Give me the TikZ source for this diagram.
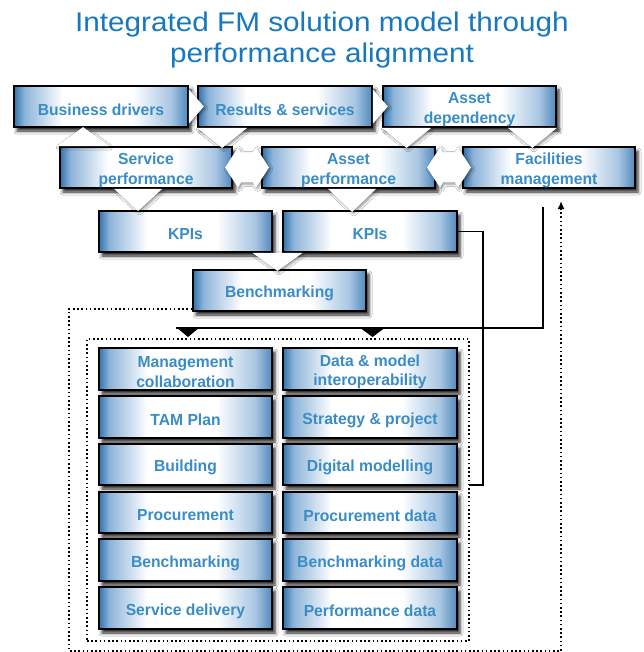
\documentclass[tikz,border=0pt]{standalone}
\usepackage{fontspec}
\setmainfont{Liberation Sans}
\newfontfamily\titlefont[FakeStretch=1.1]{Liberation Sans}
\newfontfamily\boxfont[FakeStretch=0.98]{Liberation Sans}
\usetikzlibrary{calc,shadows.blur,arrows.meta}

\definecolor{titleblue}{HTML}{1878BE}
\definecolor{boxtext}{HTML}{3A8CC6}
\definecolor{edgeL}{HTML}{3273AC}
\definecolor{edgeR}{HTML}{5089BE}
\definecolor{paleL}{HTML}{8DB4D9}
\definecolor{paleR}{HTML}{A9C6E2}

% blue at both sides, white in the middle
\pgfdeclarehorizontalshading{fmshade}{100bp}{color(0bp)=(edgeL); color(25bp)=(edgeL); color(28bp)=(paleL); color(39bp)=(white); color(59bp)=(white); color(70bp)=(paleR); color(75bp)=(edgeR); color(100bp)=(edgeR)}

\tikzset{
  fmbox/.style={draw=black, line width=1.8pt, shade, shading=fmshade,
    blur shadow={shadow xshift=3pt, shadow yshift=-4pt, shadow blur radius=3pt, shadow opacity=85},
    inner sep=0pt},
  fmtext/.style={font=\boxfont\bfseries\fontsize{16}{19.5}\selectfont, text=boxtext, align=center, inner sep=0pt},
  flow/.style={fill=white, draw=none,
    blur shadow={shadow xshift=1.5pt, shadow yshift=-1.5pt, shadow blur radius=2.5pt, shadow opacity=45}},
  titletext/.style={font=\titlefont\fontsize{27}{31}\selectfont, text=titleblue, anchor=base, inner sep=0pt},
  link/.style={line width=1.6pt, draw=black},
  dots/.style={line width=1.6pt, dash pattern=on 1.6pt off 2.6pt},
  head/.style={fill=black}
}

% box from (x1,y1) to (x2,y2), y growing downwards; its text sits a little below the middle
\newcommand{\fmnode}[6]{%
  \node[fmbox, minimum width={#4-#2}, minimum height={#5-#3}] (#1) at ({(#2+#4)/2},{(#3+#5)/2}) {};
  \node[fmtext] (#1-text) at ($(#1.center)+(0,3)$) {#6};}
% white double arrow centred on a point
\newcommand{\fmdouble}[1]{\path[flow] ($(#1)+(-22,0)$) -- ++(13,-20) -- ++(3,5) -- ++(12,0) -- ++(3,-5) -- ($(#1)+(22,0)$) -- ++(-13,20) -- ++(-3,-5) -- ++(-12,0) -- ++(-3,5) -- cycle;}

\begin{document}
\begin{tikzpicture}[x=1pt,y=-1pt]
\fill[white] (0,0) rectangle (643,652);
\useasboundingbox (0,0) rectangle (643,652);

% heading
\node[titletext] (t1) at (322,32) {Integrated FM solution model through};
\node[titletext] (t2) at (322,63) {performance alignment};

% upper levels
\fmnode{bd}{14}{86}{188}{127}{Business drivers}
\fmnode{rs}{198}{86}{372}{127}{Results \& services}
\fmnode{ad}{383}{86}{556}{127}{Asset\\dependency}
\fmnode{sp}{60}{147}{232}{188}{Service\\performance}
\fmnode{ap}{262}{147}{435}{188}{Asset\\performance}
\fmnode{fm}{463}{147}{635}{188}{Facilities\\management}
\fmnode{kl}{99}{211}{272}{252}{KPIs}
\fmnode{kr}{283}{211}{457}{252}{KPIs}
\fmnode{bm}{193}{270}{366}{311}{Benchmarking}

% grouped activities
\node[dots, draw, minimum width=382, minimum height=302, inner sep=0pt] (grp) at (278,490) {};
\fmnode{g11}{99}{348}{272}{390}{Management\\collaboration}
\fmnode{g12}{283}{348}{457}{390}{Data \& model\\interoperability}
\fmnode{g21}{99}{396}{272}{438}{TAM Plan}
\fmnode{g22}{283}{396}{457}{438}{Strategy \& project}
\fmnode{g31}{99}{444}{272}{485}{Building}
\fmnode{g32}{283}{444}{457}{485}{Digital modelling}
\fmnode{g41}{99}{492}{272}{533}{Procurement}
\fmnode{g42}{283}{492}{457}{533}{Procurement data}
\fmnode{g51}{99}{539}{272}{581}{Benchmarking}
\fmnode{g52}{283}{539}{457}{581}{Benchmarking data}
\fmnode{g61}{99}{587}{272}{629}{Service delivery}
\fmnode{g62}{283}{587}{457}{629}{Performance data}

% white flow arrows
\path[flow] ($(bd.east)+(0,-17)$) -- ($(bd.east)+(15,0)$) -- ($(bd.east)+(0,17)$) -- cycle;
\path[flow] ($(rs.east)+(0,-17)$) -- ($(rs.east)+(15,0)$) -- ($(rs.east)+(0,17)$) -- cycle;
\path[flow] (rs.south west) -- ++(50,0) -- ($(rs.south west)+(25,20)$) -- cycle;
\path[flow] ($(sp.north west)+(-2,0)$) -- ++(52,0) -- ($(sp.north west)+(24,-19)$) -- cycle;
\path[flow] (ad.south west) -- ++(49,0) -- ($(ad.south west)+(24.5,20)$) -- cycle;
\path[flow] (ad.south east) -- ++(-49,0) -- ($(ad.south east)+(-24.5,20)$) -- cycle;
\fmdouble{$(sp.east)!0.5!(ap.west)$}
\fmdouble{$(ap.east)!0.5!(fm.west)$}
\path[flow] ($(sp.south west)+(55,0)$) -- ++(48,0) -- ($(sp.south west)+(79,22)$) -- cycle;
\path[flow] ($(ap.south west)+(67,0)$) -- ++(48,0) -- ($(ap.south west)+(91,23)$) -- cycle;
\path[flow] ($($(kl.south east)!0.5!(kr.south west)$)+(-25,0)$) -- ++(50,0) -- ($($(kl.south east)!0.5!(kr.south west)$)+(0,18)$) -- cycle;

% facilities management feeding the grouped activities
\coordinate (fmtap) at (543,207);
\coordinate (fmend) at (176,328);
\draw[link] (fmtap) |- (fmend);
\fill[head] (176,327) -- (200,327) -- (188,337) -- cycle;
\fill[head] (359,327) -- (386,327) -- (372.5,337) -- cycle;

% KPIs link into the group
\coordinate (kin) at (469,485);
\draw[link] (kr.east) -| ($(kin)+(14,0)$) -- (kin);

% feedback loop from benchmarking
\coordinate (fbtop) at (561,201);
\draw[dots, -{Latex[length=8pt,width=7pt]}] ($(bm.south west)+(0,-3)$) -| (69,651) -| (fbtop);
\end{tikzpicture}
\end{document}
